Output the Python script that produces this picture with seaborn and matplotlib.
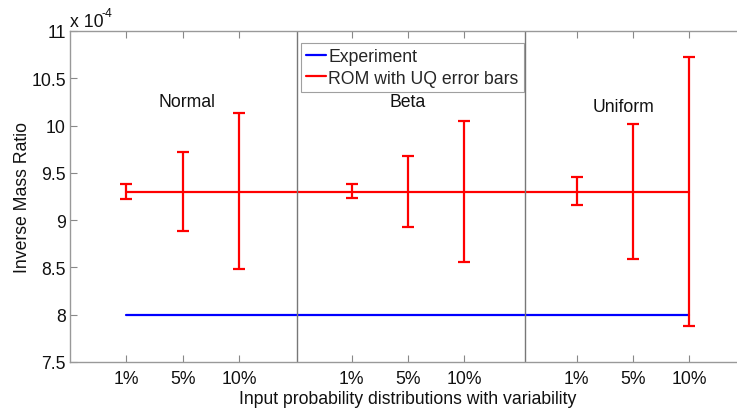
import matplotlib
matplotlib.use("Agg")
import matplotlib.pyplot as plt
import seaborn as sns
import numpy as np
import pandas as pd

# ---- data (values in units of 1e-4) ----
positions = [1, 2, 3, 5, 6, 7, 9, 10, 11]
tick_labels = ["1%", "5%", "10%", "1%", "5%", "10%", "1%", "5%", "10%"]
rom_mean = [9.30, 9.30, 9.30, 9.30, 9.30, 9.30, 9.30, 9.30, 9.30]
rom_upper = [9.385, 9.717, 10.129, 9.378, 9.674, 10.048, 9.452, 10.016, 10.73]
rom_lower = [9.226, 8.888, 8.48, 9.23, 8.93, 8.557, 9.156, 8.592, 7.877]
experiment = [8.0, 8.0, 8.0, 8.0, 8.0, 8.0, 8.0, 8.0, 8.0]
group_names = ["Normal", "Beta", "Uniform"]
group_label_x = [2.08, 6.0, 9.84]
group_label_y = [10.25, 10.25, 10.2]
separators = [4.04, 8.09]
y_ticks = [7.5, 8, 8.5, 9, 9.5, 10, 10.5, 11]

FS = 12.7

sns.set_style("ticks")
plt.rcParams["font.family"] = ["Liberation Sans", "DejaVu Sans"]
plt.rcParams["mathtext.default"] = "regular"

fig = plt.figure(figsize=(7.37, 4.10), dpi=100)
ax = fig.add_axes([70 / 737, 47 / 410, 675.6 / 737, 331 / 410])

df = pd.DataFrame({"x": positions, "exp": experiment, "rom": rom_mean})
sns.lineplot(data=df, x="x", y="exp", ax=ax, color="#0000ff", linewidth=1.6,
             label="Experiment")
sns.lineplot(data=df, x="x", y="rom", ax=ax, color="#ff0000", linewidth=1.6,
             label="ROM with UQ error bars")

mean = np.array(rom_mean)
yerr = np.vstack([mean - np.array(rom_lower), np.array(rom_upper) - mean])
ax.errorbar(positions, rom_mean, yerr=yerr, fmt="none", ecolor="#ff0000",
            elinewidth=1.6, capsize=4.5, capthick=1.6)

for s in separators:
    ax.axvline(s, color="#777777", linewidth=1.0)

for name, gx, gy in zip(group_names, group_label_x, group_label_y):
    ax.text(gx, gy, name, ha="center", va="center", fontsize=FS, color="#111111")

ax.set_xlim(0, 12)
ax.set_ylim(7.5, 11)
ax.set_xticks(positions)
ax.set_xticklabels(tick_labels)
ax.set_yticks(y_ticks)
ax.set_yticklabels(["%g" % v for v in y_ticks])
ax.tick_params(direction="in", length=5, width=0.8, color="#888888",
               labelsize=FS, labelcolor="#111111", top=True, right=True)
ax.tick_params(axis="y", pad=3)
ax.tick_params(axis="x", pad=6)
for sp in ax.spines.values():
    sp.set_visible(True)
    sp.set_color("#999999")
    sp.set_linewidth(1.0)

ax.set_xlabel("Input probability distributions with variability", fontsize=FS,
              color="#111111", labelpad=2)
ax.set_ylabel("Inverse Mass Ratio", fontsize=FS, color="#111111", labelpad=0)

ax.text(0.0, 1 + 5 / 331, "x 10", transform=ax.transAxes,
        ha="left", va="baseline", fontsize=FS, color="#111111")
ax.text(32 / 675.6, 1 + 15 / 331, "-4", transform=ax.transAxes,
        ha="left", va="baseline", fontsize=FS * 0.7, color="#111111")

leg = ax.legend(loc="upper left", bbox_to_anchor=(0.342, 0.964), fontsize=FS,
                frameon=True, fancybox=False, edgecolor="#888888",
                handlelength=1.1, handletextpad=0.15, borderpad=0.3,
                labelspacing=0.25, borderaxespad=0)
leg.get_frame().set_linewidth(0.8)

fig.savefig("out.png", dpi=100)
